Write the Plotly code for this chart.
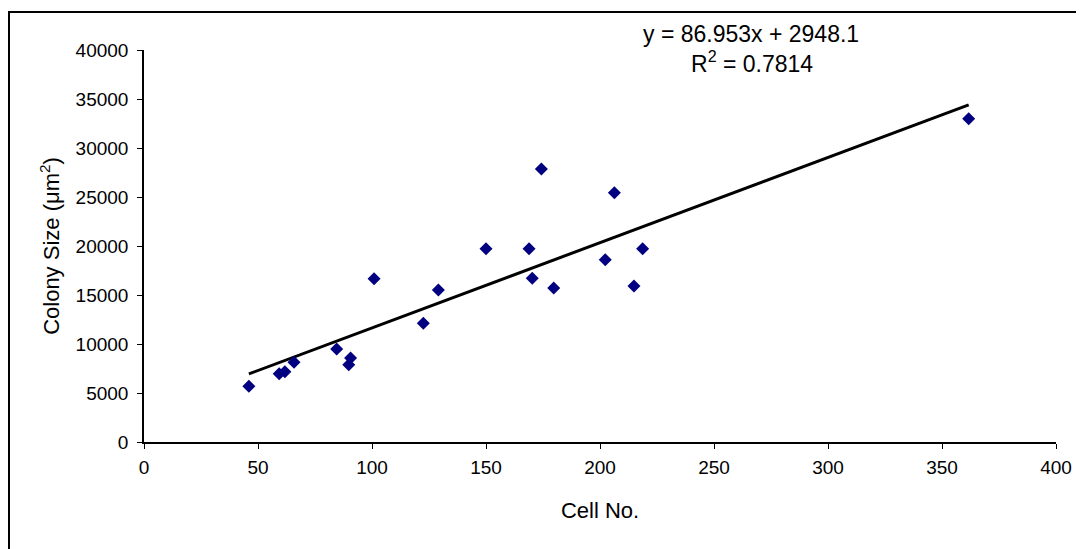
import plotly.graph_objects as go

cell_no = [46, 59.3, 61.8, 65.8, 84.5, 89.8, 90.6, 100.9, 122.5, 129.1, 150,
           168.9, 170.3, 174.3, 179.7, 202.3, 206.3, 214.9, 218.7, 361.7]
colony_size = [5700, 6970, 7180, 8130, 9490, 7890, 8570, 16670, 12110, 15510, 19730,
               19730, 16700, 27860, 15710, 18600, 25440, 15920, 19730, 32990]

slope = 86.953
intercept = 2948.1
trend_x = [min(cell_no), max(cell_no)]
trend_y = [slope * v + intercept for v in trend_x]

x_ticks = [0, 50, 100, 150, 200, 250, 300, 350, 400]
y_ticks = [0, 5000, 10000, 15000, 20000, 25000, 30000, 35000, 40000]

# page has an 8px body margin
OFF = 8
W, H = 1084 - OFF, 549 - OFF
L, R, T, B = 144 - OFF, 28, 50 - OFF, 107

font = "Liberation Sans, Arial, sans-serif"

fig = go.Figure()
fig.add_trace(go.Scatter(x=trend_x, y=trend_y, mode="lines",
                         line=dict(color="black", width=3), showlegend=False,
                         hoverinfo="skip"))
fig.add_trace(go.Scatter(x=cell_no, y=colony_size, mode="markers",
                         marker=dict(symbol="diamond", size=10, color="#000080",
                                     line=dict(width=0)),
                         showlegend=False))

pw = W - L - R
ph = H - T - B
def px(p):
    return (p - OFF - L) / pw
def py(p):
    return (H - B - (p - OFF)) / ph

fig.add_shape(type="rect", xref="paper", yref="paper",
              x0=px(9), x1=px(1100),
              y0=py(570), y1=py(12),
              line=dict(color="black", width=2), fillcolor="rgba(0,0,0,0)",
              layer="below")

fig.add_annotation(xref="paper", yref="paper", x=px(751), y=py(34),
                   xanchor="center", yanchor="middle",
                   text="y = 86.953x + 2948.1", showarrow=False,
                   font=dict(family=font, size=23, color="black"))
fig.add_annotation(xref="paper", yref="paper", x=px(752), y=py(62),
                   xanchor="center", yanchor="middle",
                   text="R<sup>2</sup> = 0.7814", showarrow=False,
                   font=dict(family=font, size=23, color="black"))

fig.update_layout(
    width=W, height=H,
    margin=dict(l=L, r=R, t=T, b=B, pad=0),
    paper_bgcolor="white", plot_bgcolor="white",
    font=dict(family=font, size=19, color="black"),
    xaxis=dict(range=[0, 400], tickvals=x_ticks, ticks="outside", ticklen=5,
               tickcolor="black", showline=True, linecolor="black", linewidth=1.5,
               showgrid=False, zeroline=False, tickformat="d",
               ticklabelstandoff=2,
               title=dict(text="Cell No.", font=dict(size=22), standoff=26),
               tickfont=dict(size=19)),
    yaxis=dict(range=[0, 40000], tickvals=y_ticks, ticks="outside", ticklen=5,
               tickcolor="black", showline=True, linecolor="black", linewidth=1.5,
               showgrid=False, zeroline=False, tickformat="d",
               ticklabelstandoff=5,
               title=dict(text="Colony Size (μm<sup>2</sup>)", font=dict(size=22), standoff=10),
               tickfont=dict(size=19)),
)

fig.write_html("out.html")
